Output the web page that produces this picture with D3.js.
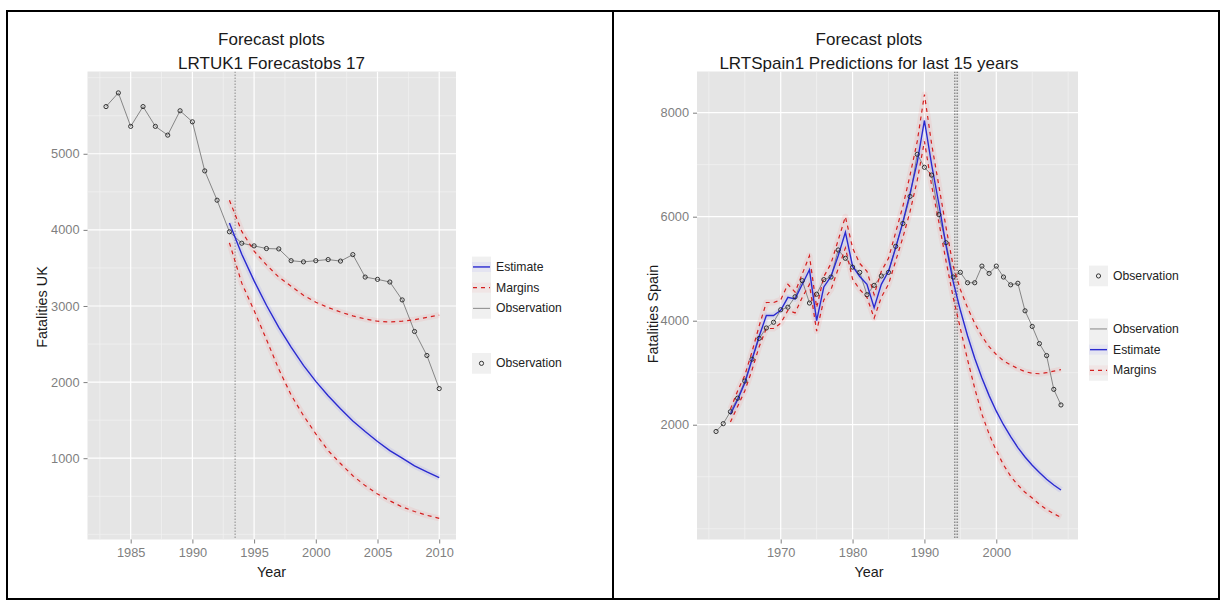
<!DOCTYPE html>
<html>
<head>
<meta charset="utf-8">
<script src="https://cdn.jsdelivr.net/npm/d3@7"></script>
<style>
  html, body { margin: 0; padding: 0; background: #ffffff; }
  svg { display: block; font-family: "Liberation Sans", Arial, sans-serif; }
</style>
</head>
<body>
<svg id="chart" width="1223" height="605"></svg>
<script>
// ---------------- UK data ----------------
const ukYears = [1983,1984,1985,1986,1987,1988,1989,1990,1991,1992,1993,1994,1995,1996,1997,1998,1999,2000,2001,2002,2003,2004,2005,2006,2007,2008,2009,2010];
const ukObs   = [5620,5800,5360,5620,5360,5245,5565,5420,4775,4390,3975,3825,3790,3755,3750,3595,3580,3595,3610,3590,3675,3380,3350,3315,3080,2665,2350,1915];
const ukFcYears  = [1993,1994,1995,1996,1997,1998,1999,2000,2001,2002,2003,2004,2005,2006,2007,2008,2009,2010];
const ukEstimate = [4090,3680,3330,3010,2720,2460,2220,2010,1820,1650,1490,1350,1220,1100,1000,900,820,745];
const ukUpper    = [4390,3980,3720,3540,3380,3260,3140,3050,2980,2920,2870,2830,2800,2790,2800,2820,2850,2880];
const ukLower    = [3830,3300,2940,2560,2170,1830,1560,1320,1100,930,770,640,530,440,360,300,250,210];
const ukXTicks = [1985,1990,1995,2000,2005,2010];
const ukYTicks = [1000,2000,3000,4000,5000];

// ---------------- Spain data ----------------
const esYears = [1961,1962,1963,1964,1965,1966,1967,1968,1969,1970,1971,1972,1973,1974,1975,1976,1977,1978,1979,1980,1981,1982,1983,1984,1985,1986,1987,1988,1989,1990,1991,1992,1993,1994,1995,1996,1997,1998,1999,2000,2001,2002,2003,2004,2005,2006,2007,2008,2009];
const esObs   = [1870,2020,2250,2510,2840,3260,3660,3860,3970,4210,4260,4460,4770,4340,4510,4790,4840,5360,5200,5030,4930,4500,4680,4860,4930,5430,5870,6390,7200,6950,6800,6040,5500,4840,4930,4730,4730,5050,4910,5050,4840,4690,4720,4190,3890,3560,3330,2680,2380];
const esFcYears  = [1963,1964,1965,1966,1967,1968,1969,1970,1971,1972,1973,1974,1975,1976,1977,1978,1979,1980,1981,1982,1983,1984,1985,1986,1987,1988,1989,1990,1991,1992,1993,1994,1995,1996,1997,1998,1999,2000,2001,2002,2003,2004,2005,2006,2007,2008,2009];
const esEstimate = [2200,2480,2800,3250,3700,4100,4100,4200,4450,4420,4700,4980,4000,4650,4850,5250,5700,5050,4850,4700,4250,4700,4950,5400,5900,6450,7050,7850,7000,6250,5450,4750,4200,3710,3280,2900,2560,2260,2000,1770,1560,1380,1220,1080,950,840,745];
const esUpper    = [2300,2650,2950,3400,3900,4350,4350,4400,4700,4550,4900,5250,4250,4850,5100,5550,6000,5400,5100,4950,4500,4950,5200,5700,6200,6800,7450,8350,7400,6600,5800,5050,4600,4250,3950,3700,3500,3350,3230,3150,3080,3020,2990,2980,3000,3030,3060];
const esLower    = [2050,2350,2650,3050,3500,3850,3850,3950,4200,4150,4450,4700,3800,4400,4600,5000,5400,4800,4600,4450,4050,4450,4700,5150,5600,6100,6700,7450,6600,5900,5150,4450,3850,3250,2700,2200,1820,1500,1230,1010,840,700,590,470,370,290,220];
const esXTicks = [1970,1980,1990,2000];
const esYTicks = [2000,4000,6000,8000];

const svg = d3.select("#chart");

// outer frame
svg.append("rect").attr("x", 7).attr("y", 11).attr("width", 1212).attr("height", 588)
  .attr("fill", "none").attr("stroke", "#000").attr("stroke-width", 2);
svg.append("line").attr("x1", 613).attr("x2", 613).attr("y1", 11).attr("y2", 599)
  .attr("stroke", "#000").attr("stroke-width", 2);

const COL_EST = "#2a2ad0", COL_MAR = "#d42020", COL_OBS = "#7a7a7a";

function drawPanel(cfg) {
  const x = d3.scaleLinear().domain(cfg.xDomain).range(cfg.xRange);
  const y = d3.scaleLinear().domain(cfg.yDomain).range(cfg.yRange);
  const g = svg.append("g");
  const [x0, x1] = cfg.xRange, [y1, y0] = cfg.yRange;

  g.append("rect").attr("x", x0).attr("y", y0).attr("width", x1 - x0).attr("height", y1 - y0).attr("fill", "#e5e5e5");

  const clipId = "clip" + cfg.id;
  svg.append("clipPath").attr("id", clipId).append("rect")
    .attr("x", x0).attr("y", y0).attr("width", x1 - x0).attr("height", y1 - y0);
  const pg = g.append("g").attr("clip-path", `url(#${clipId})`);

  // minor grid
  pg.selectAll(".mx").data(cfg.xMinor).join("line")
    .attr("x1", d => x(d)).attr("x2", d => x(d)).attr("y1", y0).attr("y2", y1)
    .attr("stroke", "#f2f2f2").attr("stroke-width", 0.7);
  pg.selectAll(".my").data(cfg.yMinor).join("line")
    .attr("y1", d => y(d)).attr("y2", d => y(d)).attr("x1", x0).attr("x2", x1)
    .attr("stroke", "#f2f2f2").attr("stroke-width", 0.7);
  // major grid
  pg.selectAll(".Mx").data(cfg.xTicks).join("line")
    .attr("x1", d => x(d)).attr("x2", d => x(d)).attr("y1", y0).attr("y2", y1)
    .attr("stroke", "#ffffff").attr("stroke-width", 1.2);
  pg.selectAll(".My").data(cfg.yTicks).join("line")
    .attr("y1", d => y(d)).attr("y2", d => y(d)).attr("x1", x0).attr("x2", x1)
    .attr("stroke", "#ffffff").attr("stroke-width", 1.2);

  // vertical forecast-origin line
  cfg.vOffsets.forEach(o => {
    pg.append("line").attr("x1", x(cfg.vLine) + o).attr("x2", x(cfg.vLine) + o)
      .attr("y1", y0).attr("y2", y1)
      .attr("stroke", "#8a8a8a").attr("stroke-width", 1).attr("stroke-dasharray", "1.5,1.5");
  });

  const line = d3.line().x(d => x(d[0])).y(d => y(d[1]));
  const obsPts = cfg.obsYears.map((yr, i) => [yr, cfg.obs[i]]);
  const estPts = cfg.fcYears.map((yr, i) => [yr, cfg.est[i]]);
  const upPts = cfg.fcYears.map((yr, i) => [yr, cfg.upper[i]]);
  const loPts = cfg.fcYears.map((yr, i) => [yr, cfg.lower[i]]);

  // halos
  [upPts, loPts].forEach(p => pg.append("path").datum(p).attr("d", line).attr("fill", "none")
    .attr("stroke", "#ff4040").attr("stroke-opacity", 0.08).attr("stroke-width", 6).attr("stroke-linejoin", "round"));
  pg.append("path").datum(estPts).attr("d", line).attr("fill", "none")
    .attr("stroke", "#4040ff").attr("stroke-opacity", 0.09).attr("stroke-width", 6).attr("stroke-linejoin", "round");

  // observation line
  pg.append("path").datum(obsPts).attr("d", line).attr("fill", "none")
    .attr("stroke", COL_OBS).attr("stroke-width", 0.9);
  // estimate
  pg.append("path").datum(estPts).attr("d", line).attr("fill", "none")
    .attr("stroke", COL_EST).attr("stroke-width", 1.4);
  // margins
  [upPts, loPts].forEach(p => pg.append("path").datum(p).attr("d", line).attr("fill", "none")
    .attr("stroke", COL_MAR).attr("stroke-width", 1.2).attr("stroke-dasharray", "4,4"));
  // points
  pg.selectAll(".pt").data(obsPts).join("circle")
    .attr("cx", d => x(d[0])).attr("cy", d => y(d[1])).attr("r", 2.1)
    .attr("fill", "none").attr("stroke", "#222").attr("stroke-width", 0.9);

  // axes
  const xAxis = d3.axisBottom(x).tickValues(cfg.xTicks).tickSize(4).tickPadding(4).tickFormat(d3.format("d"));
  const yAxis = d3.axisLeft(y).tickValues(cfg.yTicks).tickSize(4).tickPadding(4).tickFormat(d3.format("d"));
  const gx = g.append("g").attr("transform", `translate(0,${y1})`).call(xAxis);
  const gy = g.append("g").attr("transform", `translate(${x0},0)`).call(yAxis);
  [gx, gy].forEach(a => {
    a.select(".domain").remove();
    a.selectAll(".tick line").attr("stroke", "#7f7f7f");
    a.selectAll(".tick text").attr("fill", "#7f7f7f").attr("font-size", 12.8)
      .attr("font-family", "Liberation Sans, Arial, sans-serif");
  });

  // titles
  g.append("text").attr("x", cfg.titleX).attr("y", 39).attr("text-anchor", "middle")
    .attr("dominant-baseline", "central").attr("font-size", 17).attr("fill", "#1a1a1a").text("Forecast plots");
  g.append("text").attr("x", cfg.titleX).attr("y", 63).attr("text-anchor", "middle")
    .attr("dominant-baseline", "central").attr("font-size", 17).attr("fill", "#1a1a1a").text(cfg.subtitle);
  g.append("text").attr("x", cfg.titleX).attr("y", 572).attr("text-anchor", "middle")
    .attr("dominant-baseline", "central").attr("font-size", 14.4).attr("fill", "#1a1a1a").text("Year");
  g.append("text").attr("transform", `translate(${cfg.yTitleX},${cfg.yTitleY}) rotate(-90)`)
    .attr("text-anchor", "middle").attr("dominant-baseline", "central")
    .attr("font-size", 14.4).attr("fill", "#1a1a1a").text(cfg.yTitle);

  // legends
  const kx = cfg.legendX, kw = 19, kh = 20.7;
  cfg.legends.forEach(leg => {
    g.append("rect").attr("x", kx).attr("y", leg.y0).attr("width", kw).attr("height", kh * leg.items.length)
      .attr("fill", "#f0f0f0");
    leg.items.forEach((it, i) => {
      const cy = leg.y0 + kh * i + kh / 2;
      if (it.type === "est") {
        g.append("line").attr("x1", kx).attr("x2", kx + kw).attr("y1", cy).attr("y2", cy)
          .attr("stroke", "#4040ff").attr("stroke-opacity", 0.07).attr("stroke-width", 10);
        g.append("line").attr("x1", kx + 1).attr("x2", kx + kw - 1).attr("y1", cy).attr("y2", cy)
          .attr("stroke", COL_EST).attr("stroke-width", 1.4);
      } else if (it.type === "mar") {
        g.append("line").attr("x1", kx).attr("x2", kx + kw).attr("y1", cy).attr("y2", cy)
          .attr("stroke", "#ff4040").attr("stroke-opacity", 0.06).attr("stroke-width", 10);
        g.append("line").attr("x1", kx + 1).attr("x2", kx + kw - 1).attr("y1", cy).attr("y2", cy)
          .attr("stroke", COL_MAR).attr("stroke-width", 1.2).attr("stroke-dasharray", "4,4");
      } else if (it.type === "obsl") {
        g.append("line").attr("x1", kx + 1).attr("x2", kx + kw - 1).attr("y1", cy).attr("y2", cy)
          .attr("stroke", COL_OBS).attr("stroke-width", 0.9);
      } else {
        g.append("circle").attr("cx", kx + kw / 2).attr("cy", cy).attr("r", 2.1)
          .attr("fill", "none").attr("stroke", "#222").attr("stroke-width", 0.9);
      }
      g.append("text").attr("x", kx + kw + 5).attr("y", cy).attr("dominant-baseline", "central")
        .attr("font-size", 12.2).attr("fill", "#222").text(it.label);
    });
  });
}

drawPanel({
  id: "uk",
  xDomain: [1981.5, 2011.36], xRange: [87.5, 456],
  yDomain: [-68, 6081], yRange: [539.5, 71.5],
  xTicks: ukXTicks, yTicks: ukYTicks,
  xMinor: [1982.5,1987.5,1992.5,1997.5,2002.5,2007.5],
  yMinor: [0,500,1500,2500,3500,4500,5500,6000],
  vLine: 1993.46, vOffsets: [0],
  obsYears: ukYears, obs: ukObs,
  fcYears: ukFcYears, est: ukEstimate, upper: ukUpper, lower: ukLower,
  titleX: 271.5, subtitle: "LRTUK1 Forecastobs 17",
  yTitle: "Fatalities UK", yTitleX: 42, yTitleY: 307,
  legendX: 472,
  legends: [
    { y0: 256.6, items: [{type: "est", label: "Estimate"}, {type: "mar", label: "Margins"}, {type: "obsl", label: "Observation"}] },
    { y0: 353, items: [{type: "pt", label: "Observation"}] }
  ]
});

drawPanel({
  id: "es",
  xDomain: [1958.35, 2011.37], xRange: [697, 1078],
  yDomain: [-207, 8792], yRange: [539.5, 71.5],
  xTicks: esXTicks, yTicks: esYTicks,
  xMinor: [1960,1965,1975,1985,1995,2005,2010],
  yMinor: [0,1000,3000,5000,7000],
  vLine: 1994.4, vOffsets: [-1.5, 0, 1.5],
  obsYears: esYears, obs: esObs,
  fcYears: esFcYears, est: esEstimate, upper: esUpper, lower: esLower,
  titleX: 869, subtitle: "LRTSpain1 Predictions for last 15 years",
  yTitle: "Fatalities Spain", yTitleX: 653, yTitleY: 314,
  legendX: 1089,
  legends: [
    { y0: 265.6, items: [{type: "pt", label: "Observation"}] },
    { y0: 318.6, items: [{type: "obsl", label: "Observation"}, {type: "est", label: "Estimate"}, {type: "mar", label: "Margins"}] }
  ]
});
</script>
</body>
</html>
